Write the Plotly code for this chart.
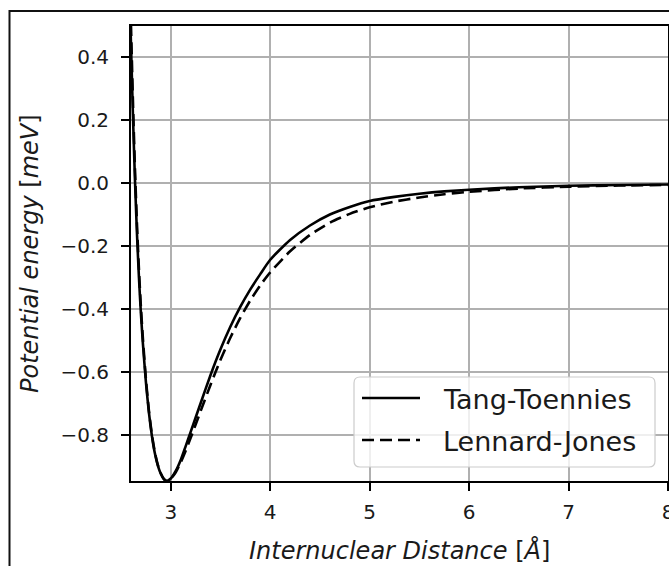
import plotly.graph_objects as go

# Internuclear distance grid [Å]
distance = [2.59, 2.60, 2.62, 2.64, 2.66, 2.68, 2.70, 2.72, 2.75, 2.78, 2.81,
            2.84, 2.87, 2.90, 2.93, 2.96, 3.00, 3.05, 3.10, 3.15, 3.20, 3.30,
            3.40, 3.50, 3.60, 3.70, 3.80, 3.90, 4.00, 4.20, 4.40, 4.60, 4.80,
            5.00, 5.25, 5.50, 5.75, 6.00, 6.50, 7.00, 7.50, 8.00]

# Potential energies [meV]
tang_toennies = [0.56, 0.44, 0.21, 0.01, -0.16, -0.30, -0.415, -0.51, -0.632,
                 -0.728, -0.802, -0.858, -0.897, -0.923, -0.940, -0.946, -0.938,
                 -0.914, -0.879, -0.835, -0.790, -0.699, -0.609, -0.5275, -0.455,
                 -0.392, -0.337, -0.2885, -0.243, -0.180, -0.134, -0.099, -0.075,
                 -0.056, -0.043, -0.033, -0.0255, -0.0205, -0.0123, -0.0078,
                 -0.0051, -0.0035]
lennard_jones = [0.62, 0.50, 0.255, 0.045, -0.13, -0.275, -0.395, -0.495, -0.622,
                 -0.722, -0.798, -0.855, -0.895, -0.922, -0.939, -0.946, -0.939,
                 -0.918, -0.887, -0.850, -0.809, -0.724, -0.640, -0.561, -0.490,
                 -0.427, -0.372, -0.324, -0.283, -0.216, -0.164, -0.125, -0.097,
                 -0.076, -0.058, -0.045, -0.0345, -0.0268, -0.0166, -0.0107,
                 -0.0071, -0.0048]

series_names = ["Tang-Toennies", "Lennard-Jones"]
x_ticks = [3, 4, 5, 6, 7, 8]
y_ticks = [0.4, 0.2, 0.0, -0.2, -0.4, -0.6, -0.8]

W, H = 669, 566
L, R, T, B = 131, 1, 26, 85
PW, PH = W - L - R, H - T - B


def px(x):
    return (x - L) / PW


def py(y):
    return (T + PH - y) / PH


FONT = "DejaVu Sans"
INK = "#1a1a1a"

fig = go.Figure()
fig.add_trace(go.Scatter(
    x=distance, y=tang_toennies, mode="lines", name=series_names[0],
    line=dict(color="black", width=2.6, shape="spline", smoothing=0.6),
    showlegend=False, cliponaxis=True))
fig.add_trace(go.Scatter(
    x=distance, y=lennard_jones, mode="lines", name=series_names[1],
    line=dict(color="black", width=2.6, dash="12px,6px", shape="spline", smoothing=0.6),
    showlegend=False, cliponaxis=True))

axis_common = dict(
    showline=True, mirror=True, linecolor="black", linewidth=1.8,
    showgrid=True, gridcolor="#b0b0b0", gridwidth=1.5, zeroline=False,
    ticks="outside", ticklen=8, tickwidth=1.6, tickcolor="black",
    tickfont=dict(family=FONT, size=20, color=INK),
    ticklabeloverflow="allow",
)

fig.update_xaxes(range=[2.6, 8.0], tickvals=x_ticks, ticklabelstandoff=4, **axis_common)
fig.update_yaxes(range=[-0.946, 0.5], tickvals=y_ticks, tickformat=".1f",
                 ticklabelstandoff=8, **axis_common)

shapes = []
# outer frame around the figure
shapes.append(dict(type="rect", xref="paper", yref="paper",
                   x0=px(9.5), x1=px(720), y0=py(620), y1=py(11),
                   line=dict(color="#111111", width=2), fillcolor="rgba(0,0,0,0)",
                   layer="above"))

# legend box with rounded corners
bx0, bx1, by0, by1, r = 354, 655, 377, 467, 6
path = (
    f"M {px(bx0 + r)},{py(by0)} L {px(bx1 - r)},{py(by0)} "
    f"Q {px(bx1)},{py(by0)} {px(bx1)},{py(by0 + r)} "
    f"L {px(bx1)},{py(by1 - r)} Q {px(bx1)},{py(by1)} {px(bx1 - r)},{py(by1)} "
    f"L {px(bx0 + r)},{py(by1)} Q {px(bx0)},{py(by1)} {px(bx0)},{py(by1 - r)} "
    f"L {px(bx0)},{py(by0 + r)} Q {px(bx0)},{py(by0)} {px(bx0 + r)},{py(by0)} Z"
)
shapes.append(dict(type="path", xref="paper", yref="paper", path=path,
                   fillcolor="rgba(255,255,255,0.8)",
                   line=dict(color="#cccccc", width=1.2), layer="above"))

legend_rows = [(398, "solid"), (440, "12px,6px")]
for (ly, dash) in legend_rows:
    shapes.append(dict(type="line", xref="paper", yref="paper",
                       x0=px(362), x1=px(420), y0=py(ly), y1=py(ly),
                       line=dict(color="black", width=2.6, dash=dash), layer="above"))

annotations = []
for (ly, _), name in zip(legend_rows, series_names):
    annotations.append(dict(xref="paper", yref="paper", x=px(441), y=py(ly + 1),
                            xanchor="left", yanchor="middle", showarrow=False,
                            text=name, font=dict(family=FONT, size=27, color=INK)))

annotations.append(dict(xref="paper", yref="paper", x=0.5, y=py(550),
                        xanchor="center", yanchor="middle", showarrow=False,
                        text="<i>Internuclear Distance</i> [<i>Å</i>]",
                        font=dict(family=FONT, size=24, color=INK)))
annotations.append(dict(xref="paper", yref="paper", x=px(30), y=py(254),
                        xanchor="center", yanchor="middle", showarrow=False,
                        textangle=-90,
                        text="<i>Potential energy</i> [<i>meV</i>]",
                        font=dict(family=FONT, size=24, color=INK)))

fig.update_layout(
    width=W, height=H,
    margin=dict(l=L, r=R, t=T, b=B, autoexpand=False),
    paper_bgcolor="white", plot_bgcolor="white",
    showlegend=False,
    shapes=shapes, annotations=annotations,
)

fig.write_html("out.html")
